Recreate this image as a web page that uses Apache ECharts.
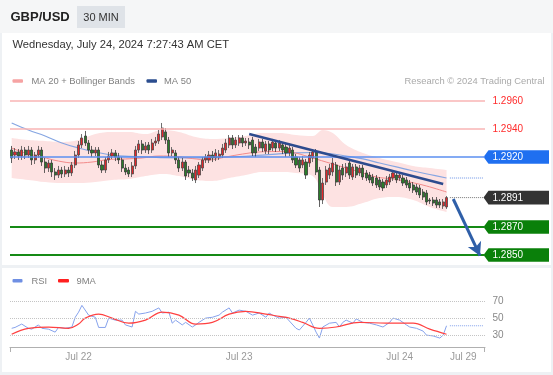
<!DOCTYPE html>
<html><head><meta charset="utf-8">
<script src="https://cdn.jsdelivr.net/npm/echarts@6/dist/echarts.min.js"></script>
<style>
html,body{margin:0;padding:0;background:#eef1f4;}
#wrap{position:relative;width:553px;height:375px;overflow:hidden;}
.pn{position:absolute;background:#fff;}
#c{position:absolute;left:0;top:0;width:553px;height:375px;}
</style>
</head><body>
<div id="wrap">
<div class="pn" style="left:0;top:0;width:553px;height:33px;background:#f5f6f7"></div>
<div class="pn" style="left:2px;top:33px;width:549px;height:232px"></div>
<div class="pn" style="left:2px;top:268px;width:549px;height:104px"></div>
<div id="c"></div>
</div>
<script>
const FONT = '"Liberation Sans", Arial, sans-serif';

// ---------- data ----------
// 30-min candles [open, close, low, high]
const candles = [
[1.29250,1.29193,1.29157,1.29279],[1.29214,1.29236,1.29186,1.29264],[1.29236,1.29207,1.29179,1.29257],[1.29207,1.29250,1.29179,1.29279],
[1.29250,1.29214,1.29186,1.29271],[1.29214,1.29250,1.29193,1.29279],[1.29250,1.29179,1.29143,1.29271],[1.29179,1.29214,1.29150,1.29236],
[1.29214,1.29250,1.29193,1.29279],[1.29250,1.29164,1.29136,1.29271],[1.29164,1.29121,1.29086,1.29193],[1.29121,1.29157,1.29093,1.29179],
[1.29157,1.29093,1.29057,1.29179],[1.29093,1.29071,1.29036,1.29121],[1.29071,1.29107,1.29050,1.29136],[1.29107,1.29079,1.29050,1.29129],
[1.29079,1.29107,1.29057,1.29136],[1.29107,1.29086,1.29057,1.29129],[1.29086,1.29143,1.29064,1.29164],[1.29143,1.29214,1.29121,1.29243],
[1.29214,1.29286,1.29193,1.29314],[1.29286,1.29336,1.29264,1.29364],[1.29350,1.29300,1.29279,1.29386],[1.29300,1.29250,1.29221,1.29321],
[1.29250,1.29229,1.29200,1.29279],[1.29229,1.29250,1.29207,1.29271],[1.29250,1.29143,1.29121,1.29271],[1.29143,1.29107,1.29086,1.29171],
[1.29107,1.29179,1.29086,1.29200],[1.29179,1.29207,1.29157,1.29236],[1.29207,1.29229,1.29186,1.29257],[1.29229,1.29200,1.29171,1.29250],
[1.29200,1.29179,1.29150,1.29229],[1.29179,1.29121,1.29093,1.29200],[1.29121,1.29093,1.29071,1.29150],[1.29107,1.29079,1.29057,1.29129],
[1.29079,1.29136,1.29057,1.29164],[1.29136,1.29250,1.29114,1.29279],[1.29250,1.29293,1.29229,1.29321],[1.29293,1.29250,1.29221,1.29321],
[1.29250,1.29279,1.29229,1.29307],[1.29286,1.29250,1.29221,1.29307],[1.29250,1.29300,1.29229,1.29329],[1.29300,1.29314,1.29279,1.29343],
[1.29314,1.29364,1.29293,1.29393],[1.29343,1.29407,1.29321,1.29443],[1.29379,1.29321,1.29293,1.29407],[1.29321,1.29229,1.29200,1.29343],
[1.29229,1.29250,1.29207,1.29271],[1.29229,1.29179,1.29150,1.29250],[1.29179,1.29121,1.29093,1.29200],[1.29121,1.29164,1.29100,1.29193],
[1.29164,1.29064,1.29036,1.29179],[1.29107,1.29086,1.29057,1.29136],[1.29086,1.29050,1.29029,1.29114],[1.29036,1.29107,1.29014,1.29136],
[1.29071,1.29143,1.29050,1.29164],[1.29121,1.29179,1.29100,1.29200],[1.29179,1.29200,1.29157,1.29221],[1.29179,1.29214,1.29157,1.29243],
[1.29214,1.29193,1.29164,1.29243],[1.29193,1.29229,1.29171,1.29257],[1.29200,1.29221,1.29179,1.29250],[1.29214,1.29264,1.29193,1.29293],
[1.29250,1.29300,1.29229,1.29329],[1.29286,1.29336,1.29264,1.29357],[1.29336,1.29286,1.29257,1.29357],[1.29286,1.29321,1.29264,1.29343],
[1.29300,1.29336,1.29279,1.29357],[1.29336,1.29300,1.29271,1.29357],[1.29300,1.29314,1.29279,1.29336],[1.29307,1.29286,1.29257,1.29336],
[1.29321,1.29229,1.29207,1.29343],[1.29271,1.29229,1.29200,1.29293],[1.29264,1.29307,1.29243,1.29329],[1.29307,1.29264,1.29236,1.29329],
[1.29243,1.29293,1.29221,1.29314],[1.29293,1.29250,1.29221,1.29314],[1.29264,1.29307,1.29243,1.29329],[1.29300,1.29264,1.29236,1.29321],
[1.29264,1.29300,1.29243,1.29321],[1.29286,1.29250,1.29221,1.29307],[1.29271,1.29229,1.29200,1.29293],[1.29229,1.29264,1.29207,1.29286],
[1.29250,1.29179,1.29157,1.29271],[1.29200,1.29143,1.29121,1.29221],[1.29179,1.29121,1.29093,1.29200],[1.29143,1.29179,1.29121,1.29207],
[1.29164,1.29071,1.29043,1.29186],[1.29157,1.29214,1.29129,1.29236],[1.29193,1.29236,1.29164,1.29257],[1.29236,1.29093,1.29071,1.29257],
[1.29107,1.28893,1.28843,1.29129],[1.28893,1.29014,1.28864,1.29050],[1.29021,1.29107,1.29000,1.29136],[1.29071,1.29121,1.29043,1.29150],
[1.29093,1.29157,1.29064,1.29193],[1.29143,1.29021,1.28993,1.29164],[1.29021,1.29107,1.29000,1.29136],[1.29121,1.29071,1.29036,1.29150],
[1.29086,1.29129,1.29057,1.29157],[1.29157,1.29071,1.29043,1.29179],[1.29057,1.29129,1.29036,1.29150],[1.29129,1.29071,1.29050,1.29150],
[1.29086,1.29121,1.29064,1.29143],[1.29121,1.29057,1.29036,1.29143],[1.29086,1.29050,1.29029,1.29107],[1.29071,1.29036,1.29014,1.29093],
[1.29057,1.29014,1.28993,1.29079],[1.29050,1.29000,1.28979,1.29071],[1.29036,1.28986,1.28964,1.29057],[1.29021,1.28979,1.28957,1.29043],
[1.29000,1.29036,1.28979,1.29064],[1.29021,1.29057,1.29000,1.29079],[1.29050,1.29086,1.29029,1.29107],[1.29071,1.29036,1.29014,1.29093],
[1.29050,1.29071,1.29029,1.29093],[1.29050,1.29014,1.28993,1.29071],[1.29036,1.29000,1.28979,1.29057],[1.29014,1.28979,1.28957,1.29036],
[1.29000,1.28964,1.28943,1.29021],[1.28986,1.28950,1.28929,1.29007],[1.28979,1.28929,1.28907,1.29000],[1.28950,1.28914,1.28893,1.28971],
[1.28943,1.28879,1.28857,1.28964],[1.28893,1.28886,1.28864,1.28907],[1.28893,1.28871,1.28850,1.28914],[1.28893,1.28857,1.28836,1.28914],
[1.28879,1.28857,1.28836,1.28900],[1.28850,1.28879,1.28829,1.28900],[1.28843,1.28910,1.28829,1.28921]
];

// moving averages, read at candle indices
const ma50Idx = [0,5,10,15,20,25,30,35,45,55,65,75,85,90,95,100,105,110,115,120,125,130];
const ma50Val = [1.29443,1.29393,1.29350,1.29300,1.29264,1.29236,1.29214,1.29204,1.29196,1.29193,1.29200,1.29214,1.29229,1.29232,1.29225,1.29207,1.29186,1.29157,1.29129,1.29100,1.29075,1.29050];
const ma20Idx = [0,4,9,14,19,24,29,34,39,44,49,54,59,64,69,74,79,84,89,94,99,104,109,114,119,124,130];
const ma20Val = [1.29264,1.29229,1.29200,1.29171,1.29157,1.29164,1.29182,1.29186,1.29193,1.29207,1.29204,1.29189,1.29179,1.29200,1.29221,1.29236,1.29239,1.29232,1.29200,1.29164,1.29129,1.29093,1.29057,1.29043,1.29021,1.28993,1.28950];
// Bollinger bands
const bbIdx   = [0,5,10,15,20,25,30,35,40,45,50,55,60,65,70,75,80,85,90,93,96,100,105,110,115,120,125,130];
const bbUpper = [1.29336,1.29321,1.29314,1.29307,1.29321,1.29364,1.29379,1.29379,1.29364,1.29393,1.29379,1.29343,1.29329,1.29336,1.29350,1.29371,1.29371,1.29357,1.29350,1.29393,1.29371,1.29286,1.29229,1.29193,1.29164,1.29136,1.29121,1.29107];
const bbLower = [1.29050,1.29036,1.29021,1.29014,1.29014,1.29021,1.29036,1.29043,1.29064,1.29079,1.29064,1.29036,1.29029,1.29050,1.29071,1.29093,1.29093,1.29086,1.29064,1.28929,1.28843,1.28843,1.28871,1.28907,1.28914,1.28893,1.28843,1.28807];

// RSI and its 9-period MA
const rsiIdx = [0,1,3,5,6,8,9,11,13,14,16,18,19,20,21,23,25,26,28,29,31,33,34,36,37,38,40,42,44,45,47,48,49,51,52,54,55,56,58,60,62,63,65,66,68,70,72,74,76,77,78,80,82,85,86,88,89,90,91,92,93,95,97,98,99,100,102,103,105,107,109,111,113,114,116,118,119,121,123,124,126,128,129,130];
const rsiVal = [38,39,43,38,37,42,38,37,33.5,39,38,39.5,51,57,65,53.5,51,39,39,50,47.6,47.6,42,39.5,58,54.7,56,58,62,56,57,44,47.6,42,45,39.5,42,45,50,51,53.5,57,62,56,59.4,58,53.5,56,51,56,53.5,50,51,38,36,45,50,42,33.5,26.5,39.5,44,45,39.5,45,47.6,44,49,45,44,42,39.5,45,50,47.6,42,39.5,38,34.7,30,29,26.5,30,41];
const rsiMaIdx = [0,5,11,17,20,22,26,30,35,40,45,50,55,60,65,70,76,80,83,87,92,97,104,112,120,125,130];
const rsiMaVal = [31,38,39.5,38,43,50,54.7,50,44,47.6,57,53.5,43,45,54.7,58,54.7,52,50,45,38,39.5,45,44,44,37,31];

// price levels on the right
const levels = [
  {v:1.2960, text:'1.2960', line:'#f8b5b5', w:1.5, fg:'#ff2b2b', bg:null},
  {v:1.2940, text:'1.2940', line:'#f8b5b5', w:1.5, fg:'#ff2b2b', bg:null},
  {v:1.2920, text:'1.2920', line:'#5b8ff0', w:1.5, fg:'#ffffff', bg:'#1f6ff0'},
  {v:1.2870, text:'1.2870', line:'#158a15', w:2,   fg:'#ffffff', bg:'#0a800a'},
  {v:1.2850, text:'1.2850', line:'#158a15', w:2,   fg:'#ffffff', bg:'#0a800a'}
];
const lastPrice = 1.2891;
const lastMa50 = 1.2905;
const lastRsi = 41;
const trendLine = [[71,1.29364],[129,1.29007]];
const arrowLine = [[132,1.28900],[140,1.28495]];
const rsiLevels = [30,50,70];
const xTicks = {20:'Jul 22', 68:'Jul 23', 116:'Jul 24', 135:'Jul 29'};

// category slots (30 min): Fri Jul 19 13:00.. then Jul 22 00:00 onward
const N = 142;
const categories = [];
for (let i = 0; i < N; i++) {
  let d, m;
  if (i < 20) { m = 13*60 + i*30; d = 19; }
  else { m = (i-20)*30; d = 22 + Math.floor(m/1440); m = m % 1440; }
  const hh = String(Math.floor(m/60)).padStart(2,'0'), mm = String(m%60).padStart(2,'0');
  categories.push('Jul ' + d + ' ' + hh + ':' + mm);
}

const pairs = (idx, vals) => idx.map((x,k)=>[x, vals[k]]);

const chart = echarts.init(document.getElementById('c'), null, {renderer:'canvas'});
const option = {
  animation:false,
  textStyle:{fontFamily:FONT},
  grid:[
    {left:10, right:68, top:94, height:168},
    {left:10, right:68, top:292.6, height:54.4}
  ],
  xAxis:[
    {type:'category', gridIndex:0, data:categories, boundaryGap:true,
     axisLine:{show:false}, axisTick:{show:false}, axisLabel:{show:false}, splitLine:{show:false}},
    {type:'category', gridIndex:1, data:categories, boundaryGap:true,
     axisLine:{show:true, lineStyle:{color:'#b0b0b0', width:1}}, axisTick:{show:false},
     axisLabel:{show:true, interval:(i)=>xTicks[i]!==undefined, formatter:(v,i)=>xTicks[i]||'',
       color:'#9a9a9a', fontSize:10, fontFamily:FONT, margin:5, hideOverlap:false},
     splitLine:{show:false}}
  ],
  yAxis:[
    {type:'value', gridIndex:0, min:1.2845, max:1.2965, show:false, splitLine:{show:false}},
    {type:'value', gridIndex:1, min:16, max:80, show:false, splitLine:{show:false}}
  ],
  series:[
    {type:'line', name:'bbLow', xAxisIndex:0, yAxisIndex:0, data:pairs(bbIdx,bbLower), stack:'bb',
     symbol:'none', smooth:0.4, lineStyle:{opacity:0}, silent:true, z:1},
    {type:'line', name:'bbFill', xAxisIndex:0, yAxisIndex:0, data:bbIdx.map((x,k)=>[x, bbUpper[k]-bbLower[k]]), stack:'bb',
     symbol:'none', smooth:0.4, lineStyle:{opacity:0}, areaStyle:{color:'#fde2e2', opacity:1}, silent:true, z:1},
    {type:'line', name:'levels', xAxisIndex:0, yAxisIndex:0, data:[], symbol:'none', silent:true, z:2,
     markLine:{silent:true, symbol:'none', precision:5, label:{show:false}, animation:false,
       data: levels.map(l=>({yAxis:l.v, lineStyle:{color:l.line, width:l.w, type:'solid'}}))}},
    {type:'line', name:'MA 50', xAxisIndex:0, yAxisIndex:0, data:pairs(ma50Idx,ma50Val), symbol:'none', smooth:0.4,
     lineStyle:{color:'#86a6e2', width:1.2}, silent:true, z:3},
    {type:'line', name:'MA 20', xAxisIndex:0, yAxisIndex:0, data:pairs(ma20Idx,ma20Val), symbol:'none', smooth:0.4,
     lineStyle:{color:'#f28a8a', width:1}, silent:true, z:3},
    {type:'candlestick', name:'GBP/USD', xAxisIndex:0, yAxisIndex:0, data:candles, barWidth:2.6, z:4,
     itemStyle:{color:'#e3262a', color0:'#2a7d2a', borderColor:'#4a4a4a', borderColor0:'#3a3a3a', borderWidth:0.8}},
    {type:'line', name:'trend', xAxisIndex:0, yAxisIndex:0, data:trendLine, symbol:'none',
     lineStyle:{color:'#2d4b8e', width:2.5}, silent:true, z:5,
     markLine:{silent:true, symbol:['none','arrow'], symbolSize:[11,13], precision:5, label:{show:false}, animation:false,
       lineStyle:{color:'#2f5fa8', width:3, type:'solid'},
       data:[[{coord:arrowLine[0]},{coord:arrowLine[1]}]]}},
    {type:'line', name:'last', xAxisIndex:0, yAxisIndex:0, data:[[131,lastPrice],[141,lastPrice]], symbol:'none',
     lineStyle:{color:'#777', width:1, type:'dotted'}, silent:true},
    {type:'line', name:'lastMa', xAxisIndex:0, yAxisIndex:0, data:[[131,lastMa50],[141,lastMa50]], symbol:'none',
     lineStyle:{color:'#6f95e6', width:1, type:'dotted'}, silent:true},
    {type:'line', name:'RSI', xAxisIndex:1, yAxisIndex:1, data:pairs(rsiIdx,rsiVal), symbol:'none',
     lineStyle:{color:'#86a2ec', width:1}, silent:true, z:3,
     markLine:{silent:true, symbol:'none', label:{show:false}, animation:false,
       lineStyle:{color:'#c4c4c4', width:1, type:'dotted'},
       data: rsiLevels.map(v=>({yAxis:v}))}},
    {type:'line', name:'9MA', xAxisIndex:1, yAxisIndex:1, data:pairs(rsiMaIdx,rsiMaVal), symbol:'none', smooth:0.4,
     lineStyle:{color:'#ff4040', width:1.2}, silent:true, z:4},
    {type:'line', name:'rsiLast', xAxisIndex:1, yAxisIndex:1, data:[[131,lastRsi],[141,lastRsi]], symbol:'none',
     lineStyle:{color:'#86a2ec', width:1, type:'dotted'}, silent:true}
  ]
};
chart.setOption(option);

// ---------- texts, legends, tags ----------
const txt = (x,y,text,size,color,extra) => ({type:'text', x:x, y:y, silent:true,
  style:{text:text, fill:color, font:(extra&&extra.bold?'bold ':'')+size+'px '+FONT,
    align:(extra&&extra.align)||'left', verticalAlign:'middle',
    textAlign:(extra&&extra.align)||'left', textVerticalAlign:'middle'}});
const g = [];
g.push(txt(10.5,17,'GBP/USD',13,'#222',{bold:true}));
g.push({type:'rect', silent:true, shape:{x:77,y:6,width:48,height:22}, style:{fill:'#dfe3e8'}});
g.push(txt(101,17.5,'30 MIN',11,'#333',{align:'center'}));
g.push(txt(12.5,45,'Wednesday, July 24, 2024 7:27:43 AM CET',11.2,'#333'));
g.push({type:'rect', silent:true, shape:{x:12.5,y:79.3,width:10.5,height:3.5,r:1}, style:{fill:'#f6a3a3'}});
g.push(txt(31.5,81,'MA 20 + Bollinger Bands',9.4,'#808080'));
g.push({type:'rect', silent:true, shape:{x:146.5,y:79.3,width:10.5,height:3.5,r:1}, style:{fill:'#2b4d8f'}});
g.push(txt(164,81,'MA 50',9.4,'#808080'));
g.push(txt(544.5,81,'Research \u00a9 2024 Trading Central',9.4,'#aaaaaa',{align:'right'}));
g.push({type:'rect', silent:true, shape:{x:12.5,y:279,width:10,height:3.5,r:1}, style:{fill:'#6f8fe3'}});
g.push(txt(31.5,281,'RSI',9.4,'#808080'));
g.push({type:'rect', silent:true, shape:{x:58,y:279,width:11,height:3.5,r:1}, style:{fill:'#ff2020'}});
g.push(txt(76.5,281,'9MA',9.4,'#808080'));

const tagLevels = levels.concat([{v:lastPrice, text:'1.2891', fg:'#ffffff', bg:'#333333'}]);
tagLevels.forEach(l => {
  const y = chart.convertToPixel({yAxisIndex:0}, l.v);
  if (l.bg) g.push({type:'polygon', silent:true,
    shape:{points:[[483.5,y],[488.5,y-6.8],[549,y-6.8],[549,y+6.8],[488.5,y+6.8]]}, style:{fill:l.bg}});
  g.push(txt(492.5,y+0.5,l.text,10,l.fg));
});
rsiLevels.forEach(v => {
  const y = chart.convertToPixel({yAxisIndex:1}, v);
  g.push(txt(492.5,y+0.5,String(v),10,'#888888'));
});
// axis end ticks of the RSI time axis
const axY = chart.convertToPixel({yAxisIndex:1}, 16);
g.push({type:'line', silent:true, shape:{x1:10.5,y1:axY,x2:10.5,y2:axY+5}, style:{stroke:'#b0b0b0', lineWidth:1}});
g.push({type:'line', silent:true, shape:{x1:484.5,y1:axY,x2:484.5,y2:axY+5}, style:{stroke:'#b0b0b0', lineWidth:1}});
chart.setOption({graphic:{elements:g}});
</script>
</body></html>
